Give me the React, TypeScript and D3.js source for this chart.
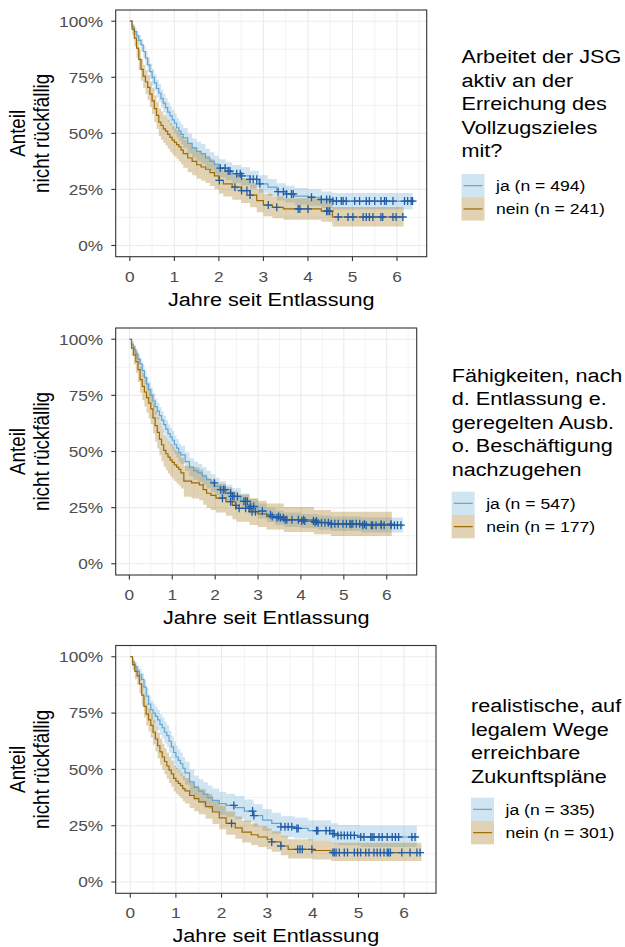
import React from "react";
import * as d3 from "d3";

const W = 625;
const H = 947;
const SX = 1.15; // the picture is a bit wider than tall, text is stretched sideways
const FONT = "'Liberation Sans', Arial, Helvetica, sans-serif";

const yTicks = [0, 0.25, 0.5, 0.75, 1];
const yTickLabels = ["0%", "25%", "50%", "75%", "100%"];
const yMinor = [0.125, 0.375, 0.625, 0.875];
const xTicks = [0, 1, 2, 3, 4, 5, 6];
const xMinor = [0.5, 1.5, 2.5, 3.5, 4.5, 5.5, 6.5];
const groups = ["ja", "nein"];
const xTitle = "Jahre seit Entlassung";
const yTitle = ["Anteil", "nicht rückfällig"];

// ---- panel 1: Arbeitet der JSG aktiv ... mit?
const title1 = ["Arbeitet der JSG", "aktiv an der", "Erreichung des", "Vollzugszieles", "mit?"];
const n1 = [494, 241];
const ja1Time = [0, 0.05, 0.1, 0.15, 0.2, 0.25, 0.3, 0.35, 0.4, 0.45, 0.5, 0.55, 0.6, 0.65, 0.7, 0.75, 0.8, 0.85, 0.9, 0.95, 1.0, 1.05, 1.1, 1.15, 1.2, 1.3, 1.4, 1.5, 1.6, 1.7, 1.8, 1.9, 2.0, 2.15, 2.3, 2.5, 2.7, 2.9, 3.1, 3.3, 3.5, 3.7, 4.0, 4.3, 4.55];
const ja1Surv = [1, 0.975, 0.955, 0.935, 0.915, 0.895, 0.865, 0.835, 0.805, 0.775, 0.75, 0.725, 0.7, 0.68, 0.655, 0.635, 0.615, 0.595, 0.578, 0.56, 0.545, 0.525, 0.51, 0.495, 0.48, 0.455, 0.435, 0.42, 0.41, 0.39, 0.375, 0.36, 0.345, 0.332, 0.32, 0.31, 0.295, 0.275, 0.26, 0.24, 0.23, 0.22, 0.215, 0.205, 0.198];
const ja1Lower = [1, 0.963, 0.938, 0.915, 0.892, 0.869, 0.837, 0.804, 0.772, 0.74, 0.713, 0.687, 0.661, 0.64, 0.614, 0.593, 0.573, 0.552, 0.535, 0.516, 0.501, 0.481, 0.466, 0.451, 0.436, 0.41, 0.391, 0.376, 0.366, 0.347, 0.332, 0.318, 0.303, 0.291, 0.279, 0.269, 0.255, 0.235, 0.221, 0.201, 0.192, 0.182, 0.177, 0.167, 0.161];
const ja1Upper = [1, 0.987, 0.972, 0.955, 0.938, 0.921, 0.893, 0.866, 0.838, 0.81, 0.787, 0.763, 0.739, 0.72, 0.696, 0.677, 0.657, 0.638, 0.621, 0.604, 0.589, 0.569, 0.554, 0.539, 0.524, 0.498, 0.477, 0.462, 0.452, 0.431, 0.416, 0.4, 0.385, 0.371, 0.359, 0.349, 0.333, 0.313, 0.297, 0.277, 0.266, 0.256, 0.251, 0.241, 0.234];
const ja1Censor = [2.03, 2.14, 2.21, 2.25, 2.4, 2.48, 2.51, 2.7, 2.77, 2.85, 2.92, 3.33, 3.45, 3.52, 3.63, 3.67, 4.08, 4.3, 4.42, 4.49, 4.56, 4.64, 4.75, 4.79, 4.86, 5.05, 5.16, 5.31, 5.38, 5.5, 5.64, 5.72, 5.76, 5.91, 6.17, 6.24, 6.32, 6.35];
const ja1End = 6.35;
const nein1Time = [0, 0.05, 0.1, 0.15, 0.2, 0.25, 0.3, 0.35, 0.4, 0.45, 0.5, 0.55, 0.6, 0.65, 0.7, 0.75, 0.8, 0.85, 0.9, 0.95, 1.0, 1.05, 1.1, 1.15, 1.2, 1.3, 1.4, 1.5, 1.6, 1.7, 1.8, 1.9, 2.0, 2.1, 2.3, 2.5, 2.7, 2.85, 3.0, 3.2, 3.45, 4.3, 4.55];
const nein1Surv = [1, 0.965, 0.925, 0.88, 0.83, 0.785, 0.755, 0.73, 0.705, 0.675, 0.645, 0.61, 0.58, 0.55, 0.535, 0.52, 0.51, 0.495, 0.482, 0.47, 0.46, 0.45, 0.44, 0.425, 0.41, 0.39, 0.375, 0.36, 0.35, 0.34, 0.325, 0.31, 0.29, 0.275, 0.26, 0.245, 0.225, 0.2, 0.18, 0.17, 0.163, 0.153, 0.127];
const nein1Lower = [1, 0.94, 0.89, 0.838, 0.782, 0.734, 0.702, 0.675, 0.649, 0.618, 0.586, 0.55, 0.519, 0.488, 0.472, 0.457, 0.446, 0.431, 0.418, 0.406, 0.396, 0.386, 0.376, 0.361, 0.347, 0.327, 0.313, 0.298, 0.289, 0.279, 0.265, 0.251, 0.232, 0.218, 0.204, 0.19, 0.171, 0.148, 0.13, 0.121, 0.115, 0.106, 0.085];
const nein1Upper = [1, 0.985, 0.953, 0.916, 0.872, 0.831, 0.805, 0.783, 0.76, 0.731, 0.703, 0.669, 0.64, 0.611, 0.597, 0.582, 0.573, 0.558, 0.545, 0.533, 0.523, 0.513, 0.503, 0.488, 0.473, 0.452, 0.437, 0.421, 0.41, 0.4, 0.384, 0.368, 0.347, 0.332, 0.316, 0.3, 0.278, 0.252, 0.231, 0.22, 0.211, 0.2, 0.172];
const nein1Censor = [2.01, 2.36, 2.51, 2.63, 2.7, 3.11, 3.3, 3.78, 3.82, 4.0, 4.42, 4.45, 4.49, 4.68, 4.9, 5.01, 5.24, 5.31, 5.38, 5.46, 5.64, 5.68, 5.91, 5.98, 6.13];
const nein1End = 6.15;

// ---- panel 2: Fähigkeiten ...
const title2 = ["Fähigkeiten, nach", "d. Entlassung e.", "geregelten Ausb.", "o. Beschäftigung", "nachzugehen"];
const n2 = [547, 177];
const ja2Time = [0, 0.05, 0.1, 0.15, 0.2, 0.25, 0.3, 0.35, 0.4, 0.45, 0.5, 0.55, 0.6, 0.65, 0.7, 0.75, 0.8, 0.85, 0.9, 0.95, 1.0, 1.05, 1.1, 1.15, 1.2, 1.3, 1.4, 1.5, 1.6, 1.7, 1.8, 1.9, 2.0, 2.1, 2.25, 2.4, 2.6, 2.8, 3.0, 3.2, 3.4, 3.6, 4.0, 4.4, 4.7, 5.4];
const ja2Surv = [1, 0.975, 0.955, 0.935, 0.91, 0.89, 0.86, 0.83, 0.8, 0.775, 0.75, 0.725, 0.7, 0.68, 0.66, 0.64, 0.62, 0.6, 0.58, 0.565, 0.55, 0.53, 0.515, 0.495, 0.485, 0.455, 0.43, 0.415, 0.405, 0.39, 0.375, 0.36, 0.345, 0.33, 0.315, 0.3, 0.278, 0.255, 0.235, 0.218, 0.205, 0.196, 0.19, 0.183, 0.178, 0.172];
const ja2Lower = [1, 0.963, 0.938, 0.915, 0.887, 0.865, 0.833, 0.801, 0.769, 0.742, 0.716, 0.69, 0.664, 0.643, 0.622, 0.601, 0.581, 0.56, 0.54, 0.525, 0.509, 0.489, 0.474, 0.454, 0.444, 0.414, 0.39, 0.375, 0.365, 0.35, 0.336, 0.321, 0.307, 0.292, 0.278, 0.264, 0.243, 0.221, 0.202, 0.186, 0.173, 0.164, 0.158, 0.151, 0.146, 0.139];
const ja2Upper = [1, 0.987, 0.972, 0.955, 0.933, 0.915, 0.887, 0.859, 0.831, 0.808, 0.784, 0.76, 0.736, 0.717, 0.698, 0.679, 0.659, 0.64, 0.62, 0.605, 0.591, 0.571, 0.556, 0.536, 0.526, 0.496, 0.47, 0.455, 0.445, 0.43, 0.414, 0.399, 0.383, 0.368, 0.352, 0.336, 0.313, 0.289, 0.268, 0.251, 0.237, 0.228, 0.222, 0.215, 0.21, 0.206];
const ja2Censor = [1.98, 2.13, 2.19, 2.23, 2.36, 2.4, 2.44, 2.52, 2.67, 2.71, 2.75, 2.83, 2.9, 3.1, 3.29, 3.44, 3.52, 3.59, 3.67, 3.79, 4.02, 4.09, 4.29, 4.36, 4.4, 4.48, 4.56, 4.64, 4.71, 4.79, 4.87, 4.98, 5.06, 5.14, 5.21, 5.29, 5.37, 5.44, 5.52, 5.64, 5.67, 5.75, 5.87, 5.94, 6.1, 6.18, 6.25, 6.33];
const ja2End = 6.38;
const nein2Time = [0, 0.05, 0.1, 0.15, 0.2, 0.25, 0.3, 0.35, 0.4, 0.45, 0.5, 0.55, 0.6, 0.65, 0.7, 0.75, 0.8, 0.85, 0.9, 0.95, 1.0, 1.05, 1.1, 1.15, 1.2, 1.27, 1.45, 1.63, 1.72, 1.8, 1.9, 2.02, 2.25, 2.4, 2.5, 2.8, 3.0, 3.2, 3.6, 4.3, 4.7];
const nein2Surv = [1, 0.96, 0.93, 0.9, 0.865, 0.82, 0.79, 0.765, 0.74, 0.715, 0.69, 0.65, 0.615, 0.585, 0.555, 0.53, 0.505, 0.49, 0.475, 0.462, 0.452, 0.44, 0.43, 0.42, 0.405, 0.368, 0.36, 0.351, 0.33, 0.314, 0.305, 0.292, 0.277, 0.26, 0.247, 0.232, 0.222, 0.21, 0.196, 0.184, 0.176];
const nein2Lower = [1, 0.925, 0.888, 0.85, 0.809, 0.762, 0.728, 0.7, 0.673, 0.647, 0.621, 0.58, 0.544, 0.513, 0.483, 0.457, 0.432, 0.417, 0.402, 0.389, 0.379, 0.368, 0.358, 0.349, 0.335, 0.299, 0.291, 0.283, 0.263, 0.248, 0.24, 0.228, 0.214, 0.198, 0.187, 0.173, 0.164, 0.153, 0.141, 0.131, 0.124];
const nein2Upper = [1, 0.99, 0.97, 0.945, 0.917, 0.877, 0.849, 0.827, 0.804, 0.78, 0.756, 0.717, 0.683, 0.654, 0.624, 0.6, 0.575, 0.56, 0.545, 0.532, 0.522, 0.509, 0.499, 0.488, 0.472, 0.437, 0.43, 0.42, 0.398, 0.381, 0.371, 0.357, 0.341, 0.323, 0.308, 0.292, 0.281, 0.268, 0.253, 0.24, 0.232];
const nein2Censor = [2.17, 2.36, 2.48, 2.56, 2.71, 2.79, 2.86, 2.94, 3.33, 3.48, 3.63, 3.94, 4.06, 4.33, 4.71, 5.17, 5.48, 5.87, 6.1];
const nein2End = 6.12;

// ---- panel 3: realistische Zukunftspläne
const title3 = ["realistische, auf", "legalem Wege", "erreichbare", "Zukunftspläne"];
const n3 = [335, 301];
const ja3Time = [0, 0.05, 0.1, 0.15, 0.2, 0.25, 0.3, 0.35, 0.4, 0.45, 0.5, 0.55, 0.6, 0.65, 0.7, 0.75, 0.8, 0.85, 0.9, 0.95, 1.0, 1.05, 1.1, 1.15, 1.2, 1.3, 1.4, 1.5, 1.6, 1.7, 1.8, 1.95, 2.1, 2.3, 2.5, 2.7, 2.9, 3.1, 3.3, 3.6, 3.9, 4.4, 4.55, 5.05];
const ja3Surv = [1, 0.975, 0.955, 0.935, 0.92, 0.9, 0.865, 0.825, 0.79, 0.765, 0.75, 0.735, 0.72, 0.7, 0.685, 0.665, 0.65, 0.625, 0.6, 0.575, 0.555, 0.54, 0.525, 0.505, 0.485, 0.445, 0.42, 0.403, 0.39, 0.375, 0.362, 0.348, 0.34, 0.33, 0.315, 0.295, 0.275, 0.26, 0.245, 0.238, 0.228, 0.215, 0.207, 0.2];
const ja3Lower = [1, 0.959, 0.933, 0.909, 0.892, 0.869, 0.831, 0.787, 0.749, 0.722, 0.706, 0.69, 0.674, 0.653, 0.637, 0.616, 0.6, 0.574, 0.548, 0.523, 0.502, 0.487, 0.472, 0.452, 0.432, 0.392, 0.368, 0.351, 0.338, 0.324, 0.311, 0.298, 0.29, 0.28, 0.266, 0.247, 0.228, 0.214, 0.2, 0.193, 0.184, 0.171, 0.163, 0.155];
const ja3Upper = [1, 0.99, 0.976, 0.96, 0.947, 0.929, 0.898, 0.861, 0.829, 0.806, 0.792, 0.778, 0.764, 0.745, 0.73, 0.711, 0.697, 0.673, 0.649, 0.624, 0.605, 0.59, 0.575, 0.555, 0.535, 0.498, 0.473, 0.456, 0.443, 0.428, 0.415, 0.401, 0.392, 0.382, 0.366, 0.345, 0.324, 0.308, 0.292, 0.285, 0.274, 0.261, 0.253, 0.25];
const ja3Censor = [2.27, 2.68, 2.71, 3.3, 3.39, 3.46, 3.54, 3.65, 3.68, 4.08, 4.11, 4.29, 4.37, 4.44, 4.47, 4.55, 4.62, 4.69, 4.76, 4.83, 4.91, 5.05, 5.12, 5.27, 5.3, 5.34, 5.45, 5.52, 5.63, 5.74, 5.81, 5.88, 6.17, 6.24];
const ja3End = 6.28;
const nein3Time = [0, 0.05, 0.1, 0.15, 0.2, 0.25, 0.3, 0.35, 0.4, 0.45, 0.5, 0.55, 0.6, 0.65, 0.7, 0.75, 0.8, 0.85, 0.9, 0.95, 1.0, 1.05, 1.1, 1.15, 1.2, 1.3, 1.4, 1.5, 1.65, 1.8, 1.95, 2.1, 2.3, 2.45, 2.65, 2.8, 3.0, 3.1, 3.3, 3.46, 4.0, 4.4];
const nein3Surv = [1, 0.965, 0.935, 0.915, 0.88, 0.83, 0.78, 0.745, 0.72, 0.695, 0.665, 0.635, 0.605, 0.578, 0.555, 0.535, 0.515, 0.497, 0.48, 0.46, 0.448, 0.438, 0.428, 0.415, 0.405, 0.385, 0.37, 0.356, 0.335, 0.311, 0.285, 0.26, 0.24, 0.222, 0.21, 0.2, 0.19, 0.178, 0.16, 0.145, 0.14, 0.131];
const nein3Lower = [1, 0.94, 0.9, 0.877, 0.838, 0.784, 0.732, 0.695, 0.668, 0.642, 0.611, 0.58, 0.549, 0.521, 0.498, 0.478, 0.458, 0.44, 0.423, 0.403, 0.392, 0.382, 0.372, 0.359, 0.349, 0.329, 0.314, 0.301, 0.281, 0.258, 0.234, 0.21, 0.192, 0.175, 0.164, 0.155, 0.146, 0.135, 0.119, 0.105, 0.1, 0.093];
const nein3Upper = [1, 0.985, 0.96, 0.943, 0.912, 0.87, 0.825, 0.793, 0.77, 0.748, 0.72, 0.691, 0.663, 0.637, 0.614, 0.594, 0.574, 0.556, 0.539, 0.519, 0.506, 0.495, 0.485, 0.472, 0.462, 0.442, 0.427, 0.413, 0.391, 0.366, 0.339, 0.313, 0.291, 0.272, 0.26, 0.249, 0.238, 0.225, 0.205, 0.19, 0.184, 0.174];
const nein3Censor = [2.22, 3.1, 3.3, 3.67, 3.72, 3.77, 3.98, 4.44, 4.47, 4.51, 4.58, 4.69, 4.76, 4.91, 4.98, 5.05, 5.16, 5.23, 5.34, 5.41, 5.48, 5.56, 5.63, 5.66, 5.7, 5.95, 6.13, 6.28, 6.35];
const nein3End = 6.38;

const colors = { ja: "#62A5D0", nein: "#9C6A04" };
const censorColor = "#1F5DA6";

type Curve = { time: number[]; surv: number[]; lower: number[]; upper: number[]; censor: number[]; end: number };

const panels = [
  {
    title: title1, n: n1,
    curves: [
      { time: ja1Time, surv: ja1Surv, lower: ja1Lower, upper: ja1Upper, censor: ja1Censor, end: ja1End },
      { time: nein1Time, surv: nein1Surv, lower: nein1Lower, upper: nein1Upper, censor: nein1Censor, end: nein1End },
    ],
    box: { top: 10, bottom: 256.7, left: 115.7, right: 426.7 },
    legend: { x: 461.5, titleY: 63.3, keyY: 174 },
  },
  {
    title: title2, n: n2,
    curves: [
      { time: ja2Time, surv: ja2Surv, lower: ja2Lower, upper: ja2Upper, censor: ja2Censor, end: ja2End },
      { time: nein2Time, surv: nein2Surv, lower: nein2Lower, upper: nein2Upper, censor: nein2Censor, end: nein2End },
    ],
    box: { top: 328, bottom: 575, left: 115.7, right: 416.7 },
    legend: { x: 451.7, titleY: 381.7, keyY: 491.7 },
  },
  {
    title: title3, n: n3,
    curves: [
      { time: ja3Time, surv: ja3Surv, lower: ja3Lower, upper: ja3Upper, censor: ja3Censor, end: ja3End },
      { time: nein3Time, surv: nein3Surv, lower: nein3Lower, upper: nein3Upper, censor: nein3Censor, end: nein3End },
    ],
    box: { top: 645.5, bottom: 893.3, left: 115.7, right: 436 },
    legend: { x: 471, titleY: 712.3, keyY: 797.7 },
  },
];

const survAt = (c: Curve, t: number) => {
  let s = c.surv[0];
  for (let i = 0; i < c.time.length; i++) if (c.time[i] <= t) s = c.surv[i];
  return s;
};

const Txt = ({ x, y, size, fill = "#000", anchor = "start", rotate = false, children }: any) => (
  <text
    transform={`translate(${x},${y}) scale(${SX},1)${rotate ? " rotate(-90)" : ""}`}
    fontSize={size}
    fill={fill}
    textAnchor={anchor}
    fontFamily={FONT}
  >
    {children}
  </text>
);

function Panel({ p }: any) {
  const { box, legend } = p;
  const tMax = d3.max(p.curves, (c: Curve) => c.end) as number;
  const x = d3.scaleLinear().domain([-0.05 * tMax, 1.05 * tMax]).range([box.left, box.right]);
  const y = d3.scaleLinear().domain([-0.05, 1.05]).range([box.bottom, box.top]);

  const line = d3.line<any>().x((d) => x(d.t)).y((d) => y(d.s)).curve(d3.curveStepAfter);
  const area = d3.area<any>().x((d) => x(d.t)).y0((d) => y(d.lo)).y1((d) => y(d.hi)).curve(d3.curveStepAfter);

  const pts = (c: Curve) => {
    const a = c.time.map((t, i) => ({ t, s: c.surv[i], lo: c.lower[i], hi: c.upper[i] }));
    const last = a[a.length - 1];
    a.push({ ...last, t: c.end });
    return a;
  };

  const midY = (box.top + box.bottom) / 2;
  const lineH = 23.5;
  const keyH = 23.3;
  const keyW = 23;

  return (
    <g>
      {/* grid */}
      {yMinor.map((v) => (
        <line key={"ym" + v} x1={box.left} x2={box.right} y1={y(v)} y2={y(v)} stroke="#EBEBEB" strokeWidth={0.6} />
      ))}
      {xMinor.filter((v) => x(v) < box.right).map((v) => (
        <line key={"xm" + v} x1={x(v)} x2={x(v)} y1={box.top} y2={box.bottom} stroke="#EBEBEB" strokeWidth={0.6} />
      ))}
      {yTicks.map((v) => (
        <line key={"y" + v} x1={box.left} x2={box.right} y1={y(v)} y2={y(v)} stroke="#EBEBEB" strokeWidth={1.1} />
      ))}
      {xTicks.map((v) => (
        <line key={"x" + v} x1={x(v)} x2={x(v)} y1={box.top} y2={box.bottom} stroke="#EBEBEB" strokeWidth={1.1} />
      ))}

      {/* confidence bands */}
      {p.curves.map((c: Curve, i: number) => (
        <path key={"r" + i} d={area(pts(c)) as string} fill={colors[groups[i]]} fillOpacity={0.3} stroke="none" />
      ))}
      {/* survival steps */}
      {p.curves.map((c: Curve, i: number) => (
        <path key={"l" + i} d={line(pts(c)) as string} fill="none" stroke={colors[groups[i]]} strokeWidth={1.2} />
      ))}
      {/* censoring marks */}
      {p.curves.map((c: Curve, i: number) =>
        c.censor.map((t, j) => (
          <path
            key={"c" + i + "-" + j}
            d={`M${x(t) - 4},${y(survAt(c, t))}h8M${x(t)},${y(survAt(c, t)) - 4}v8`}
            stroke={censorColor}
            strokeWidth={1.3}
            fill="none"
          />
        ))
      )}

      <rect x={box.left} y={box.top} width={box.right - box.left} height={box.bottom - box.top} fill="none" stroke="#333333" strokeWidth={1.1} />

      {/* y axis */}
      {yTicks.map((v, i) => (
        <g key={"yt" + v}>
          <line x1={box.left - 4.4} x2={box.left} y1={y(v)} y2={y(v)} stroke="#333333" strokeWidth={1.1} />
          <Txt x={box.left - 12.5} y={y(v) + 5.3} size={15} fill="#4D4D4D" anchor="end">{yTickLabels[i]}</Txt>
        </g>
      ))}
      {/* x axis */}
      {xTicks.map((v) => (
        <g key={"xt" + v}>
          <line x1={x(v)} x2={x(v)} y1={box.bottom} y2={box.bottom + 4.4} stroke="#333333" strokeWidth={1.1} />
          <Txt x={x(v)} y={box.bottom + 25} size={15} fill="#4D4D4D" anchor="middle">{v}</Txt>
        </g>
      ))}
      <Txt x={(box.left + box.right) / 2} y={box.bottom + 49} size={18.8} anchor="middle">{xTitle}</Txt>
      <Txt x={25} y={midY} size={18.8} anchor="middle" rotate>{yTitle[0]}</Txt>
      <Txt x={49} y={midY} size={18.8} anchor="middle" rotate>{yTitle[1]}</Txt>

      {/* legend */}
      {p.title.map((s: string, i: number) => (
        <Txt key={"lt" + i} x={legend.x} y={legend.titleY + i * lineH} size={18.8}>{s}</Txt>
      ))}
      {groups.map((g, i) => {
        const ky = legend.keyY + i * keyH;
        return (
          <g key={"k" + g}>
            <rect x={legend.x} y={ky} width={keyW} height={keyH} fill={colors[g]} fillOpacity={0.3} />
            <line x1={legend.x + 2} x2={legend.x + keyW - 2} y1={ky + keyH / 2} y2={ky + keyH / 2} stroke={colors[g]} strokeWidth={1.2} />
            <Txt x={legend.x + keyW + 11.5} y={ky + keyH / 2 + 5.5} size={15.3}>{`${g} (n = ${p.n[i]})`}</Txt>
          </g>
        );
      })}
    </g>
  );
}

export default function App() {
  return (
    <svg width={W} height={H} style={{ position: "absolute", left: 0, top: 0, background: "#fff" }}>
      <rect width={W} height={H} fill="#fff" />
      {panels.map((p, i) => (
        <Panel key={i} p={p} />
      ))}
    </svg>
  );
}
